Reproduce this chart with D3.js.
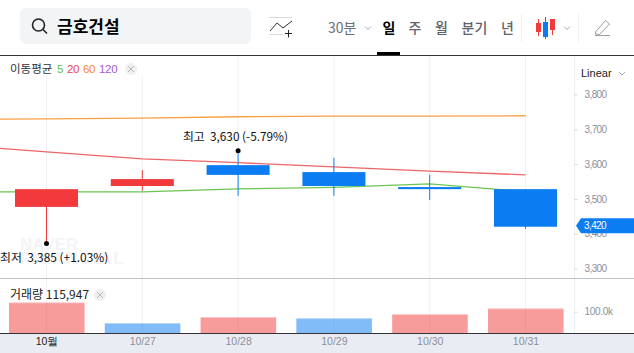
<!doctype html>
<html>
<head>
<meta charset="utf-8">
<script src="https://d3js.org/d3.v7.min.js"></script>
<style>
  html, body { margin: 0; padding: 0; background: #fff; }
  svg { display: block; }
  text { font-family: "Noto Sans CJK KR", "Liberation Sans", sans-serif; }
  .num { font-family: "Liberation Sans", sans-serif; }
</style>
</head>
<body>
<svg id="chart" width="634" height="353"></svg>
<script>
// chart data
var labels = ["10월", "10/27", "10/28", "10/29", "10/30", "10/31"];
var open  = [3477, 3537, 3597, 3577, 3534, 3528];
var close = [3528, 3557, 3569, 3537, 3528, 3420];
var high  = [3528, 3583, 3630, 3618, 3569, 3528];
var low   = [3385, 3523, 3509, 3509, 3497, 3414];
var volume = [144000, 47000, 75000, 70000, 89000, 115947];
var volumeUp = [true, false, true, false, true, true];

// moving averages start one session before the first candle
var maIndex = [-1, 0, 1, 2, 3, 4, 5];
var ma5  = [3520, 3520, 3520, 3529, 3533, 3543, 3521];
var ma20 = [3656, 3635, 3615, 3604, 3592, 3580, 3569];
var ma60 = [3728, 3730, 3732, 3736, 3738, 3738, 3739];

var priceTicks = [3300, 3400, 3500, 3600, 3700, 3800];
var volumeTicks = [100000];
var navItems = ["일", "주", "월", "분기", "년"];
var navX = [389, 415, 441.5, 474.5, 507.5];

var RED = "#f23a3c", BLUE = "#0b7cf2", GRAY = "#8b909a";
var axisX = 574.5, volBase = 333;

var svg = d3.select("#chart");
var x = d3.scaleLinear().domain([0, 5]).range([46.5, 525.5]);
var y = d3.scaleLinear().domain([3300, 3800]).range([268.5, 94.5]);
var yVol = d3.scaleLinear().domain([0, 100000]).range([volBase, 311.7]);
var xLabel = d3.scalePoint().domain(labels).range([46.5, 525.5]);
var fmt = d3.format(",");

// footer band
svg.append("rect").attr("x", 0).attr("y", volBase).attr("width", 634).attr("height", 20).attr("fill", "#e9ecf2");

// grid
svg.append("g").selectAll("line").data(labels).enter().append("line")
  .attr("x1", function(d){ return xLabel(d); }).attr("x2", function(d){ return xLabel(d); })
  .attr("y1", 55).attr("y2", volBase)
  .attr("stroke", "#f0f1f4").attr("stroke-width", 1);
svg.append("rect").attr("x", 0).attr("y", 56).attr("width", 150).attr("height", 20).attr("fill", "#fff");

// watermark
svg.append("text").attr("class", "num").attr("x", 20).attr("y", 250).attr("font-size", 17).attr("font-weight", 700).attr("fill", "#f3f4f7").text("NAVER");
svg.append("text").attr("class", "num").attr("x", 20).attr("y", 264).attr("font-size", 17).attr("font-weight", 700).attr("letter-spacing", "1.5px").attr("fill", "#f3f4f7").text("FINANCIAL");

// separators
svg.append("line").attr("x1", axisX).attr("x2", axisX).attr("y1", 55).attr("y2", volBase).attr("stroke", "#eceef1");
svg.append("line").attr("x1", 0).attr("x2", 634).attr("y1", 278.5).attr("y2", 278.5).attr("stroke", "#bcc3c9");
svg.append("line").attr("x1", 0).attr("x2", 634).attr("y1", 55.5).attr("y2", 55.5).attr("stroke", "#333").attr("stroke-width", 1);

// moving averages
function drawMa(values, color) {
  var line = d3.line()
    .x(function(d, i){ return x(maIndex[i]); })
    .y(function(d){ return y(d); });
  svg.append("path").attr("d", line(values)).attr("fill", "none")
    .attr("stroke", color).attr("stroke-width", 1.3).attr("stroke-opacity", 0.9);
}
drawMa(ma60, "#f8962e");
drawMa(ma20, "#ec5458");
drawMa(ma5, "#5cbf3f");

// candles
var candles = svg.append("g").selectAll("g").data(labels).enter().append("g");
function candleColor(i) { return close[i] >= open[i] ? RED : BLUE; }
candles.append("line")
  .attr("x1", function(d, i){ return x(i); }).attr("x2", function(d, i){ return x(i); })
  .attr("y1", function(d, i){ return y(high[i]); })
  .attr("y2", function(d, i){ return y(low[i]); })
  .attr("stroke", function(d, i){ return candleColor(i); });
candles.append("rect")
  .attr("x", function(d, i){ return x(i) - 31.5; })
  .attr("width", 63)
  .attr("y", function(d, i){ return y(Math.max(open[i], close[i])); })
  .attr("height", function(d, i){ return Math.abs(y(open[i]) - y(close[i])); })
  .attr("fill", function(d, i){ return candleColor(i); });

// high / low markers
var hiIdx = d3.range(high.length).reduce(function(a, b){ return high[b] > high[a] ? b : a; }, 0);
var loIdx = d3.range(low.length).reduce(function(a, b){ return low[b] < low[a] ? b : a; }, 0);
svg.append("line").attr("x1", x(hiIdx)).attr("x2", x(hiIdx)).attr("y1", y(high[hiIdx]) - 3).attr("y2", y(high[hiIdx])).attr("stroke", candleColor(hiIdx));
svg.append("line").attr("x1", x(loIdx)).attr("x2", x(loIdx)).attr("y1", y(low[loIdx])).attr("y2", y(low[loIdx]) + 4.5).attr("stroke", candleColor(loIdx));
svg.append("circle").attr("cx", x(hiIdx)).attr("cy", y(high[hiIdx]) - 3).attr("r", 2.5).attr("fill", "#000");
svg.append("circle").attr("cx", x(loIdx)).attr("cy", y(low[loIdx]) + 4.5).attr("r", 2.5).attr("fill", "#000");
svg.append("text").attr("x", 183).attr("y", 141).attr("font-size", 11.8).attr("fill", "#111")
  .attr("xml:space", "preserve").text("최고  " + fmt(high[hiIdx]) + " (-5.79%)");
svg.append("text").attr("x", 0).attr("y", 262).attr("font-size", 11.9).attr("fill", "#111")
  .attr("xml:space", "preserve").text("최저  " + fmt(low[loIdx]) + " (+1.03%)");

// volume bars, a lighter strip along the top of each
function volColor(i) { return volumeUp[i] ? RED : BLUE; }
var vol = svg.append("g").selectAll("g").data(volume).enter().append("g");
vol.append("rect")
  .attr("x", function(d, i){ return x(i) - 37.5; }).attr("width", 75.5)
  .attr("y", function(d){ return yVol(d); })
  .attr("height", function(d){ return volBase - yVol(d); })
  .attr("fill", function(d, i){ return volColor(i); }).attr("fill-opacity", 0.3);
vol.append("rect")
  .attr("x", function(d, i){ return x(i) - 37.5; }).attr("width", 75.5)
  .attr("y", function(d){ return yVol(d) + 1; })
  .attr("height", function(d){ return volBase - yVol(d) - 1; })
  .attr("fill", function(d, i){ return volColor(i); }).attr("fill-opacity", 0.3);
svg.append("line").attr("x1", 0).attr("x2", 634).attr("y1", volBase + 0.5).attr("y2", volBase + 0.5).attr("stroke", "#333").attr("stroke-width", 1);

// axes
function styleAxis(g, size) {
  g.select(".domain").remove();
  g.selectAll(".tick line").attr("stroke", "#d5d8dd");
  g.selectAll(".tick text").attr("fill", GRAY).attr("font-size", size).style("font-family", '"Liberation Sans", sans-serif');
}
var gy = svg.append("g").attr("transform", "translate(" + axisX + ",0)")
  .call(d3.axisRight(y).tickValues(priceTicks).tickSize(3).tickPadding(7).tickFormat(fmt));
styleAxis(gy, 10);
gy.selectAll(".tick text").attr("letter-spacing", "-0.6px");

var gv = svg.append("g").attr("transform", "translate(" + axisX + ",0)")
  .call(d3.axisRight(yVol).tickValues(volumeTicks).tickSize(3).tickPadding(7).tickFormat(function(d){ return (d / 1000).toFixed(1) + "k"; }));
styleAxis(gv, 10);
gv.selectAll(".tick text").attr("letter-spacing", "-0.3px");

var gx = svg.append("g").attr("transform", "translate(0," + volBase + ")")
  .call(d3.axisBottom(xLabel).tickSize(0).tickPadding(5));
styleAxis(gx, 10.5);
gx.selectAll(".tick text").attr("fill", function(d, i){ return i === 0 ? "#222" : GRAY; });

// last price tag
var lastY = y(close[close.length - 1]) - 1;
svg.append("path")
  .attr("d", "M576," + lastY + "L581," + (lastY - 7.5) + "H634V" + (lastY + 7.5) + "H581Z")
  .attr("fill", BLUE);
svg.append("text").attr("class", "num").attr("x", 584).attr("y", lastY + 3.5).attr("font-size", 10)
  .attr("letter-spacing", "-0.6px").attr("fill", "#fff").text(fmt(close[close.length - 1]));

// legends
function closeBtn(cx, cy) {
  svg.append("circle").attr("cx", cx).attr("cy", cy).attr("r", 6).attr("fill", "#efefef");
  svg.append("path").attr("d", "M" + (cx - 3) + "," + (cy - 3) + "l6,6m0,-6l-6,6").attr("stroke", "#b5b8bd").attr("stroke-width", 1).attr("fill", "none");
}
svg.append("text").attr("x", 10).attr("y", 73).attr("font-size", 11.5).attr("fill", "#333").text("이동평균");
var maLegend = [["5", 57, "#5cbf3f"], ["20", 67, "#ec4a50"], ["60", 83, "#f58a1f"], ["120", 99, "#a45bcf"]];
maLegend.forEach(function(m) {
  svg.append("text").attr("class", "num").attr("x", m[1]).attr("y", 73).attr("font-size", 11.5).attr("letter-spacing", "-0.3px").attr("fill", m[2]).text(m[0]);
});
closeBtn(131, 69);
svg.append("text").attr("x", 10).attr("y", 299).attr("font-size", 12).attr("fill", "#222").text("거래량 " + fmt(volume[volume.length - 1]));
closeBtn(100, 295);

// top bar
svg.append("rect").attr("x", 20).attr("y", 8).attr("width", 231).attr("height", 36).attr("rx", 6).attr("fill", "#f3f4f6");
svg.append("circle").attr("cx", 38.5).attr("cy", 25).attr("r", 6).attr("fill", "none").attr("stroke", "#222").attr("stroke-width", 1.6);
svg.append("line").attr("x1", 43).attr("y1", 29.5).attr("x2", 47).attr("y2", 33.5).attr("stroke", "#222").attr("stroke-width", 1.6);
svg.append("text").attr("x", 57).attr("y", 33).attr("font-size", 17).attr("font-weight", 700).attr("fill", "#000").text("금호건설");

// indicator icon
svg.append("path").attr("d", "M269,17.5H292M269,34.5H283").attr("stroke", "#d9dbdf").attr("fill", "none");
svg.append("path").attr("d", "M270,31L277,23L283,28L292,21").attr("stroke", "#333").attr("fill", "none");
svg.append("path").attr("d", "M288.5,30V37.5M285,33.5H292").attr("stroke", "#222").attr("fill", "none");

// period tabs
svg.append("text").attr("x", 328).attr("y", 33).attr("font-size", 14).attr("fill", "#6b7078").text("30분");
function chevron(cx, cy) {
  svg.append("path").attr("d", "M" + (cx - 3) + "," + (cy - 1.5) + "l3,3l3,-3").attr("stroke", "#a4a8ae").attr("fill", "none");
}
chevron(368, 28);
navItems.forEach(function(n, i) {
  svg.append("text").attr("x", navX[i]).attr("y", 33).attr("text-anchor", "middle").attr("font-size", 14)
    .attr("font-weight", i === 0 ? 700 : 500).attr("fill", i === 0 ? "#000" : "#5f646c").text(n);
});
svg.append("rect").attr("x", 377).attr("y", 52).attr("width", 23).attr("height", 3).attr("fill", "#000");
svg.append("line").attr("x1", 521.5).attr("x2", 521.5).attr("y1", 14).attr("y2", 42).attr("stroke", "#eff0f2");
svg.append("line").attr("x1", 578.5).attr("x2", 578.5).attr("y1", 14).attr("y2", 42).attr("stroke", "#eff0f2");

// candle icon
svg.append("path").attr("d", "M538.5,19V36M552.5,19V35").attr("stroke", RED).attr("fill", "none");
svg.append("path").attr("d", "M545.5,17V39").attr("stroke", BLUE).attr("fill", "none");
svg.append("rect").attr("x", 536).attr("y", 23).attr("width", 5).attr("height", 9).attr("fill", RED);
svg.append("rect").attr("x", 543).attr("y", 22).attr("width", 5).attr("height", 15).attr("fill", BLUE);
svg.append("rect").attr("x", 550).attr("y", 19).attr("width", 5).attr("height", 11).attr("fill", RED);
chevron(567, 28);

// pencil icon
svg.append("path").attr("d", "M595.5,32L605.5,20.5L609.5,24L599.5,34.5L595.5,34Z").attr("stroke", "#9a9da3").attr("fill", "none");
svg.append("line").attr("x1", 595).attr("x2", 610).attr("y1", 35.5).attr("y2", 35.5).attr("stroke", "#9a9da3");

// scale switch
svg.append("text").attr("class", "num").attr("x", 581).attr("y", 77).attr("font-size", 11).attr("fill", "#222").text("Linear");
chevron(622, 73.5);
</script>
</body>
</html>
